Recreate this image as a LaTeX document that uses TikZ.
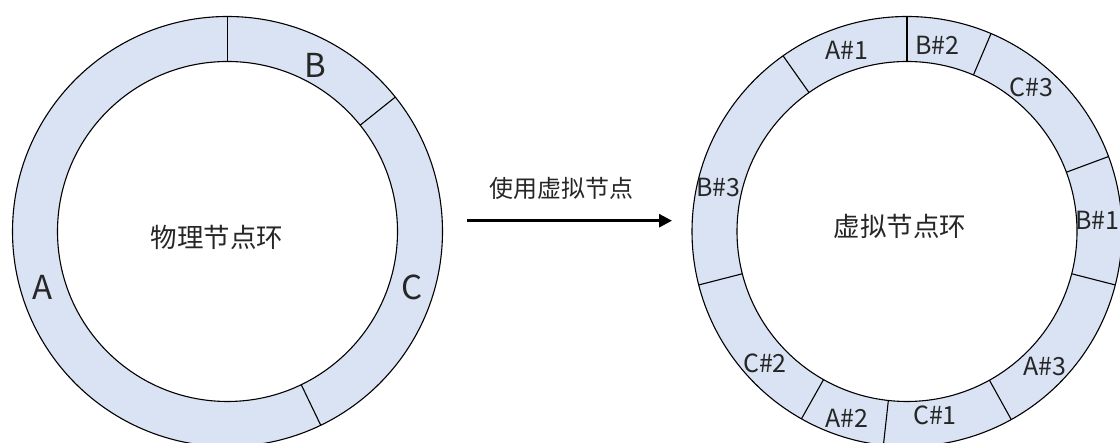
\documentclass[tikz,border=0pt]{standalone}
\usepackage{fontspec}
\setmainfont{Noto Sans CJK SC}
\usetikzlibrary{arrows.meta}
\definecolor{ringblue}{HTML}{DAE3F3}
\definecolor{txt}{HTML}{262626}
\tikzset{
  ringfill/.style={fill=ringblue, even odd rule},
  ringline/.style={draw=black, line width=1.1},
  biglbl/.style={text=txt, font=\fontsize{33}{33}\selectfont, inner sep=0},
  vlbl/.style={text=txt, font=\fontsize{25}{25}\selectfont, inner sep=0},
  cjklbl/.style={text=txt, font=\fontsize{26.5}{26.5}\selectfont, inner sep=0},
  arrlbl/.style={text=txt, font=\fontsize{24}{24}\selectfont, inner sep=0},
}
\begin{document}
\begin{tikzpicture}[x=1pt,y=1pt]
\useasboundingbox (0,0) rectangle (1120,443);
\fill[white] (0,0) rectangle (1120,443);
% left ring
\coordinate (L) at (227.5,211.5);
\fill[ringfill] (L) circle (215) (L) circle (170);
\draw[ringline] (L) circle (215);
\draw[ringline] (L) circle (170);
\foreach \a in {90,38.7,-64.3}
  \draw[ringline] ([shift={(\a:170)}]L) -- ([shift={(\a:215)}]L);
\node[biglbl] (lA) at (43,156) {A};
\node[biglbl] (lB) at (315,378) {B};
\node[biglbl] (lC) at (412,156) {C};
\node[cjklbl] (lt) at (217,206) {物理节点环};
% right ring
\coordinate (R) at (907,211.5);
\fill[ringfill] (R) circle (215) (R) circle (170);
\draw[ringline] (R) circle (215);
\draw[ringline] (R) circle (170);
\foreach \a in {90,67,20.4,-14.4,-61,-96.3,-119.4,-165.6,125.2}
  \draw[ringline] ([shift={(\a:170)}]R) -- ([shift={(\a:215)}]R);
\node[vlbl] (a1) at (846.7,393) {A\#1};
\node[vlbl] (b2) at (937.3,398) {B\#2};
\node[vlbl] (c3) at (1031.7,356) {C\#3};
\node[vlbl] (b1) at (1097.3,223) {B\#1};
\node[vlbl] (a3) at (1045,76.3) {A\#3};
\node[vlbl] (c1) at (935,28) {C\#1};
\node[vlbl] (a2) at (846.7,24.7) {A\#2};
\node[vlbl] (c2) at (765,79.7) {C\#2};
\node[vlbl] (b3) at (718.3,255.7) {B\#3};
\node[cjklbl] (rt) at (900,216.3) {虚拟节点环};
% arrow
\coordinate (as) at (467,222.3);
\coordinate (ae) at (672,222.3);
\draw[line width=2.7, -{Triangle[length=13pt,width=13pt]}] (as) -- (ae);
\node[arrlbl] (al) at (561.7,254.7) {使用虚拟节点};
\end{tikzpicture}
\end{document}
